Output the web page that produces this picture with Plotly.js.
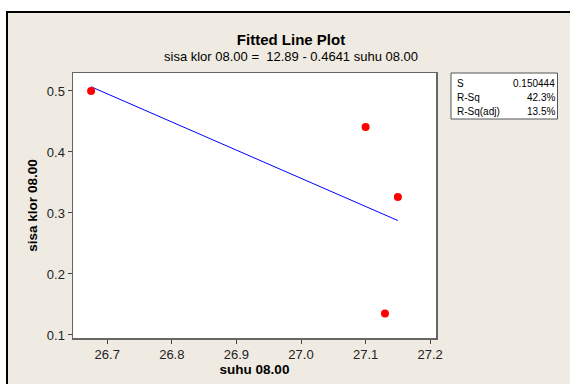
<!DOCTYPE html>
<html>
<head>
<meta charset="utf-8">
<script src="https://cdn.plot.ly/plotly-3.0.1.min.js"></script>
<style>html,body{margin:0;padding:0;background:#fff;}#chart{width:570px;height:384px;}</style>
</head>
<body>
<div id="chart"></div>
<script>
// Data
const suhu = [26.675, 27.10, 27.15, 27.13];
const sisaKlor = [0.500, 0.441, 0.326, 0.135];
const xTicks = [26.7, 26.8, 26.9, 27.0, 27.1, 27.2];
const xTickText = ['26.7', '26.8', '26.9', '27.0', '27.1', '27.2'];
const yTicks = [0.1, 0.2, 0.3, 0.4, 0.5];
const yTickText = ['0.1', '0.2', '0.3', '0.4', '0.5'];
const statLabels = ['S', 'R-Sq', 'R-Sq(adj)'];
const statValues = ['0.150444', '42.3%', '13.5%'];
const chartTitle = 'Fitted Line Plot';
const equation = 'sisa klor 08.00 =  12.89 - 0.4641 suhu 08.00';

// least-squares fit from the data
const n = suhu.length;
const mx = suhu.reduce((a, b) => a + b, 0) / n;
const my = sisaKlor.reduce((a, b) => a + b, 0) / n;
let sxx = 0, sxy = 0;
for (let i = 0; i < n; i++) { sxx += (suhu[i] - mx) ** 2; sxy += (suhu[i] - mx) * (sisaKlor[i] - my); }
const slope = sxy / sxx;
const intercept = my - slope * mx;
const xMin = Math.min(...suhu), xMax = Math.max(...suhu);
const fitX = [xMin, xMax];
const fitY = fitX.map(x => intercept + slope * x);

const FONT = 'Liberation Sans, Arial, sans-serif';
const L = 73, R = 134, T = 73, B = 46, W = 570 - L - R, H = 384 - T - B;
const px = v => (v - L) / W;          // pixel x -> paper x
const py = v => (384 - B - v) / H;    // pixel y -> paper y

const traces = [
  { x: fitX, y: fitY, mode: 'lines', line: { color: '#0000ff', width: 1 }, hoverinfo: 'skip', showlegend: false },
  { x: suhu, y: sisaKlor, mode: 'markers', marker: { color: '#ff0000', size: 8 }, showlegend: false }
];

const annotations = [
  { text: equation, xref: 'paper', yref: 'paper', x: px(291), y: py(56), xanchor: 'center', yanchor: 'middle',
    showarrow: false, font: { family: FONT, size: 13, color: '#000' } }
];
const rowY = [83, 97, 111];
statLabels.forEach((lab, i) => {
  annotations.push({ text: lab, xref: 'paper', yref: 'paper', x: px(455), y: py(rowY[i]), xanchor: 'left', yanchor: 'middle',
    showarrow: false, font: { family: FONT, size: 10, color: '#000' } });
  annotations.push({ text: statValues[i], xref: 'paper', yref: 'paper', x: px(557), y: py(rowY[i]), xanchor: 'right', yanchor: 'middle',
    showarrow: false, font: { family: FONT, size: 10, color: '#000' } });
});

const shapes = [
  { type: 'rect', xref: 'paper', yref: 'paper', x0: px(7), x1: px(580), y0: py(395), y1: py(12),
    fillcolor: '#efebe2', line: { color: '#000', width: 2 }, layer: 'below' },
  { type: 'rect', xref: 'paper', yref: 'paper', x0: 0, x1: 1, y0: 0, y1: 1,
    fillcolor: '#ffffff', line: { width: 0 }, layer: 'below' },
  { type: 'rect', xref: 'paper', yref: 'paper', x0: px(451), x1: px(557.5), y0: py(119), y1: py(73),
    fillcolor: '#ffffff', line: { color: '#555', width: 1 }, layer: 'below' }
];

const layout = {
  width: 570, height: 384,
  margin: { l: L, r: R, t: T, b: B, pad: 0 },
  paper_bgcolor: '#ffffff',
  plot_bgcolor: '#ffffff',
  title: { text: '<b>' + chartTitle + '</b>', xref: 'paper', x: px(291), xanchor: 'center',
    yref: 'container', y: 1 - 40 / 384, yanchor: 'middle', font: { family: FONT, size: 15, color: '#000' } },
  xaxis: {
    range: [26.647, 27.209], tickvals: xTicks, ticktext: xTickText,
    ticks: 'outside', ticklen: 4, tickwidth: 1, tickcolor: '#444',
    showline: true, linecolor: '#666', linewidth: 1.5, mirror: true,
    showgrid: false, zeroline: false,
    tickfont: { family: FONT, size: 13, color: '#222' },
    title: { text: '<b>suhu 08.00</b>', font: { family: FONT, size: 13.5, color: '#000' }, standoff: 2 }
  },
  yaxis: {
    range: [0.095, 0.5295], tickvals: yTicks, ticktext: yTickText,
    ticks: 'outside', ticklen: 4, tickwidth: 1, tickcolor: '#444',
    showline: true, linecolor: '#666', linewidth: 1.5, mirror: true,
    showgrid: false, zeroline: false,
    tickfont: { family: FONT, size: 13, color: '#222' },
    title: { text: '<b>sisa klor 08.00</b>', font: { family: FONT, size: 13.5, color: '#000' }, standoff: 6 }
  },
  shapes: shapes,
  annotations: annotations,
  showlegend: false
};

Plotly.newPlot('chart', traces, layout, { displayModeBar: false, staticPlot: true });
</script>
</body>
</html>
